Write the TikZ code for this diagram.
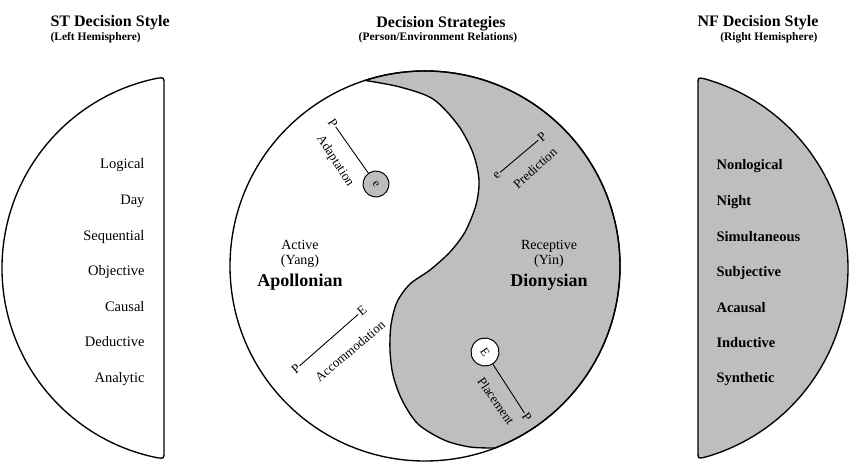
\documentclass[tikz,border=0pt]{standalone}
\usepackage{fontspec}
\setmainfont{Liberation Serif}
\definecolor{shade}{RGB}{190,190,190}
\begin{document}
\begin{tikzpicture}[x=1pt,y=-1pt,
  outline/.style={line width=1.35pt, line join=round},
  listL/.style={anchor=base east, font=\fontsize{14.5}{16}\selectfont},
  listR/.style={anchor=base west, font=\fontsize{14.5}{16}\selectfont\bfseries},
  head/.style={font=\fontsize{16}{18}\selectfont\bfseries},
  sub/.style={font=\fontsize{11.5}{13}\selectfont\bfseries},
  lab/.style={font=\fontsize{14}{16}\selectfont, anchor=base},
  big/.style={font=\fontsize{18}{20}\selectfont\bfseries, anchor=base},
  ann/.style={font=\fontsize{13}{15}\selectfont, inner sep=1pt},
  conn/.style={line width=0.9pt},
  ring/.style={circle, draw, line width=1pt, inner sep=0pt, font=\fontsize{12}{14}\selectfont},
]
\useasboundingbox (0,0) rectangle (851,464);

% left half-disc
\draw[outline] (164,268) -- (164,452) .. controls (164,458.5) .. (158,457.9)
  arc[start angle=258.8, end angle=101.2, radius=193.6pt]
  .. controls (164,77.5) .. (164,84) -- cycle;
% right half-disc
\draw[outline, fill=shade] (698,268) -- (698,452) .. controls (698,458.5) .. (703.9,457.5)
  arc[start angle=-74.5, end angle=74.5, radius=196.6pt]
  .. controls (698,77.5) .. (698,84) -- cycle;

% yin-yang
\draw[outline, fill=shade] plot[smooth] coordinates {(365.1,80.4) (400,87) (433,99) (458,125) (473,153) (479,180) (476,205) (465,232) (450,252) (430,270) (410,284) (397,302) (391,325) (390,350) (393,375) (402,400) (418,424) (444,440) (470,447) (494.9,448)}
  arc[start angle=-69, end angle=107.9, radius=195pt] -- cycle;
\draw[outline] (425,266) circle[radius=195pt];

% headers
\node[head, anchor=base west] (h1) at (47,26) {ST Decision Style};
\node[sub, anchor=base west] (s1) at (47,40) {(Left Hemisphere)};
\node[head, anchor=base] (h2) at (441,27) {Decision Strategies};
\node[sub, anchor=base] (s2) at (438,40) {(Person/Environment Relations)};
\node[head, anchor=base east] (h3) at (822,26) {NF Decision Style};
\node[sub, anchor=base east] (s3) at (821,40) {(Right Hemisphere)};

% left list
\node[listL] (l1) at (148,168) {Logical};
\node[listL] (l2) at (148,204) {Day};
\node[listL] (l3) at (148,240) {Sequential};
\node[listL] (l4) at (148,275) {Objective};
\node[listL] (l5) at (148,311) {Causal};
\node[listL] (l6) at (148,346) {Deductive};
\node[listL] (l7) at (148,382) {Analytic};

% right list
\node[listR] (r1) at (713,169) {Nonlogical};
\node[listR] (r2) at (713,205) {Night};
\node[listR] (r3) at (713,241) {Simultaneous};
\node[listR] (r4) at (713,276) {Subjective};
\node[listR] (r5) at (713,312) {Acausal};
\node[listR] (r6) at (713,347) {Inductive};
\node[listR] (r7) at (713,382) {Synthetic};

% center labels
\node[lab] (a1) at (300,249) {Active};
\node[lab] (a2) at (300,264) {(Yang)};
\node[big] (a3) at (300,286) {Apollonian};
\node[lab] (b1) at (549,249) {Receptive};
\node[lab] (b2) at (549,264) {(Yin)};
\node[big] (b3) at (549,286) {Dionysian};

% Adaptation
\node[ann, rotate=-57] (pA) at (333,123) {P};
\node[ring, fill=shade, minimum size=26pt, rotate=-57] (eA) at (376,184) {e};
\draw[conn] (pA) -- (eA);
\node[ann, rotate=-57] (tA) at (335,161) {Adaptation};

% Prediction
\node[ann, rotate=42] (eP) at (497,175) {e};
\node[ann, rotate=42] (pP) at (542,137) {P};
\draw[conn] (eP) -- (pP);
\node[ann, rotate=42] (tP) at (535,168) {Prediction};

% Accommodation
\node[ann, rotate=40] (eC) at (362,311) {E};
\node[ann, rotate=40] (pC) at (296,369) {P};
\draw[conn] (pC) -- (eC);
\node[ann, rotate=40] (tC) at (350,351) {Accommodation};

% Placement
\node[ring, fill=white, minimum size=28pt, rotate=-55] (eL) at (485,352) {E};
\node[ann, rotate=-55] (pL) at (527,417) {P};
\draw[conn] (eL) -- (pL);
\node[ann, rotate=-55] (tL) at (496,401) {Placement};
\end{tikzpicture}
\end{document}
